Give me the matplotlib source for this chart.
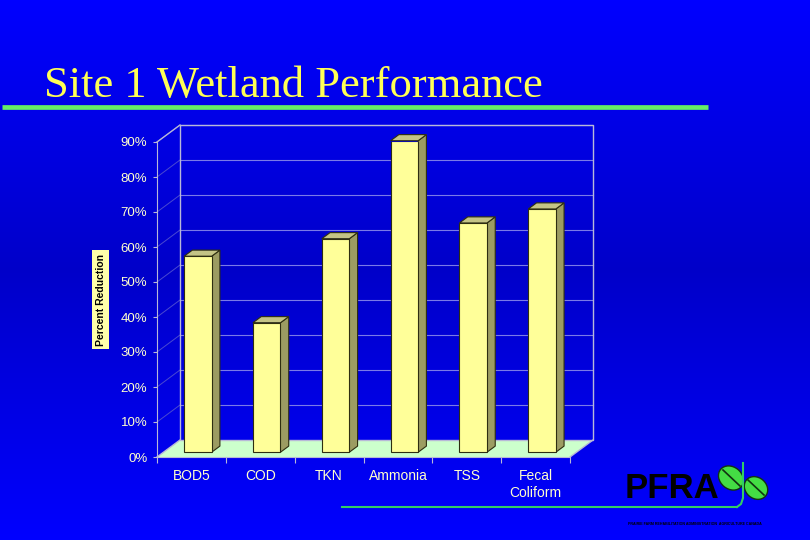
"""Site 1 Wetland Performance - barre pseudo 3D"""
import numpy as np
import matplotlib
matplotlib.use("Agg")
import matplotlib.pyplot as plt
from matplotlib.patches import Polygon, Ellipse, Rectangle
from matplotlib.lines import Line2D

# dati
categories = ["BOD5", "COD", "TKN", "Ammonia", "TSS", "Fecal\nColiform"]
reduction = [0.56, 0.37, 0.61, 0.89, 0.655, 0.695]
yticks = [0.0, 0.1, 0.2, 0.3, 0.4, 0.5, 0.6, 0.7, 0.8, 0.9]
ytick_labels = ["0%", "10%", "20%", "30%", "40%", "50%", "60%", "70%", "80%", "90%"]

FRONT = "#FFFF99"
SIDE = "#9C9C62"
TOP = "#C4C486"
EDGE = "#2E2E10"
FLOOR = "#CCFFCC"
GRID = "#7A7AE8"
FRAME = "#B8B8D8"
TXT = "#FFFFCC"

fig = plt.figure(figsize=(8.1, 5.4), dpi=100)

# sfondo sfumato: chiaro sopra e sotto, piu scuro al centro
bg = fig.add_axes([0, 0, 1, 1], zorder=-2)
t = np.abs(np.linspace(-1, 1, 540))
blue = 0.79 + 0.21 * t
grad = np.zeros((540, 2, 3))
grad[:, :, 2] = blue[:, None]
bg.imshow(grad, aspect="auto", extent=[0, 1, 0, 1])
bg.axis("off")

# assi principali: piano frontale in pixel x 157-570, y 142-457
ax = fig.add_axes([157 / 810, 83 / 540, 413 / 810, 315 / 540], zorder=1)
ax.patch.set_alpha(0)
n = len(categories)
ax.set_xlim(0, n)
ax.set_ylim(0, 0.9)

DX = 23 / 413 * n      # spostamento in profondita (x)
DY = 17 / 315 * 0.9    # spostamento in profondita (y)

# pavimento
ax.add_patch(Polygon([(0, 0), (n, 0), (n + DX, DY), (DX, DY)], closed=True,
                     facecolor=FLOOR, edgecolor="none", zorder=1, clip_on=False))
# griglia parete di fondo e parete sinistra
for y in yticks[1:]:
    ax.add_line(Line2D([DX, n + DX], [y + DY, y + DY], color=GRID, lw=0.8, zorder=1.5, clip_on=False))
    ax.add_line(Line2D([0, DX], [y, y + DY], color="#4A4AD0", lw=0.7, zorder=1.5, clip_on=False))
# cornice
ax.add_patch(Rectangle((DX, DY), n, 0.9, facecolor="none", edgecolor=FRAME, lw=1.0, zorder=2, clip_on=False))
for xs, ys in [([0, DX], [0.9, 0.9 + DY]), ([0, DX], [0, DY]), ([n, n + DX], [0, DY])]:
    ax.add_line(Line2D(xs, ys, color=FRAME, lw=1.0, zorder=2, clip_on=False))

# barre
D0, D1 = 0.28, 0.64
W = 0.4
xc = np.arange(n) + 0.5 + D0 * DX
base = D0 * DY
ddx, ddy = (D1 - D0) * DX, (D1 - D0) * DY
for x, v in zip(xc, reduction):
    xl, xr = x - W / 2, x + W / 2
    ax.add_patch(Polygon([(xr, base), (xr, base + v), (xr + ddx, base + v + ddy), (xr + ddx, base + ddy)],
                         closed=True, facecolor=SIDE, edgecolor=EDGE, lw=0.8, zorder=4, clip_on=False))
    ax.add_patch(Polygon([(xl, base + v), (xr, base + v), (xr + ddx, base + v + ddy), (xl + ddx, base + v + ddy)],
                         closed=True, facecolor=TOP, edgecolor=EDGE, lw=0.8, zorder=4, clip_on=False))
ax.bar(xc, reduction, width=W, bottom=base, color=FRONT, edgecolor=EDGE, lw=0.8, zorder=5)

# assi e tick
for s in ["top", "right"]:
    ax.spines[s].set_visible(False)
for s in ["left", "bottom"]:
    ax.spines[s].set_color(FRAME)
    ax.spines[s].set_zorder(3)
ax.set_yticks(yticks)
ax.set_yticklabels(ytick_labels, fontsize=9.5, color=TXT, family="Liberation Sans")
ax.tick_params(axis="y", length=3, color=FRAME, pad=4)
ax.set_xticks(np.arange(n + 1))
ax.set_xticklabels([])
ax.tick_params(axis="x", which="major", length=4, color=FRAME)
ax.set_xticks(np.arange(n) + 0.5, minor=True)
ax.set_xticklabels(categories, minor=True, fontsize=10, color=TXT, family="Liberation Sans", linespacing=1.25)
ax.tick_params(axis="x", which="minor", length=0, pad=9)
ax.set_ylabel("Percent Reduction", fontsize=7.5, fontweight="bold", color="black", family="Liberation Sans",
              bbox=dict(boxstyle="square,pad=0.35", facecolor="#FFFFAA", edgecolor="none"))
ax.yaxis.set_label_coords(-0.124, 0.5)

# strato decorativo in coordinate pixel
deco = fig.add_axes([0, 0, 1, 1], zorder=3)
deco.set_xlim(0, 810)
deco.set_ylim(540, 0)
deco.axis("off")
deco.patch.set_alpha(0)

deco.text(44, 97, "Site 1 Wetland Performance", fontsize=32, color="#FFFF55", family="Liberation Serif",
          va="baseline", ha="left")
deco.add_line(Line2D([2, 708], [107, 107], color="#66EE66", lw=3.4, solid_capstyle="butt"))

# logo PFRA
deco.text(625, 498, "PFRA", fontsize=25, fontweight="bold", color="black", family="Liberation Sans",
          va="baseline", ha="left")
deco.add_line(Line2D([342, 737], [507, 507], color="#33CC66", lw=1.5))
deco.add_line(Line2D([743, 743, 741, 737], [463, 498, 504, 507], color="#33CC66", lw=1.5))
deco.add_patch(Ellipse((731, 478), 27, 22, angle=40, facecolor="#44DD44", edgecolor="#113311", lw=1))
deco.add_line(Line2D([723, 740], [470, 486], color="#113311", lw=1.2))
deco.add_patch(Ellipse((756, 488), 25, 21, angle=40, facecolor="#44DD44", edgecolor="#113311", lw=1))
deco.add_line(Line2D([748, 764], [480, 495], color="#113311", lw=1.2))
deco.text(628, 524, "PRAIRIE FARM REHABILITATION ADMINISTRATION  AGRICULTURE CANADA", fontsize=2.6,
          fontweight="bold", color="black", family="Liberation Sans", va="center", ha="left")

fig.savefig("out.png", dpi=100)
